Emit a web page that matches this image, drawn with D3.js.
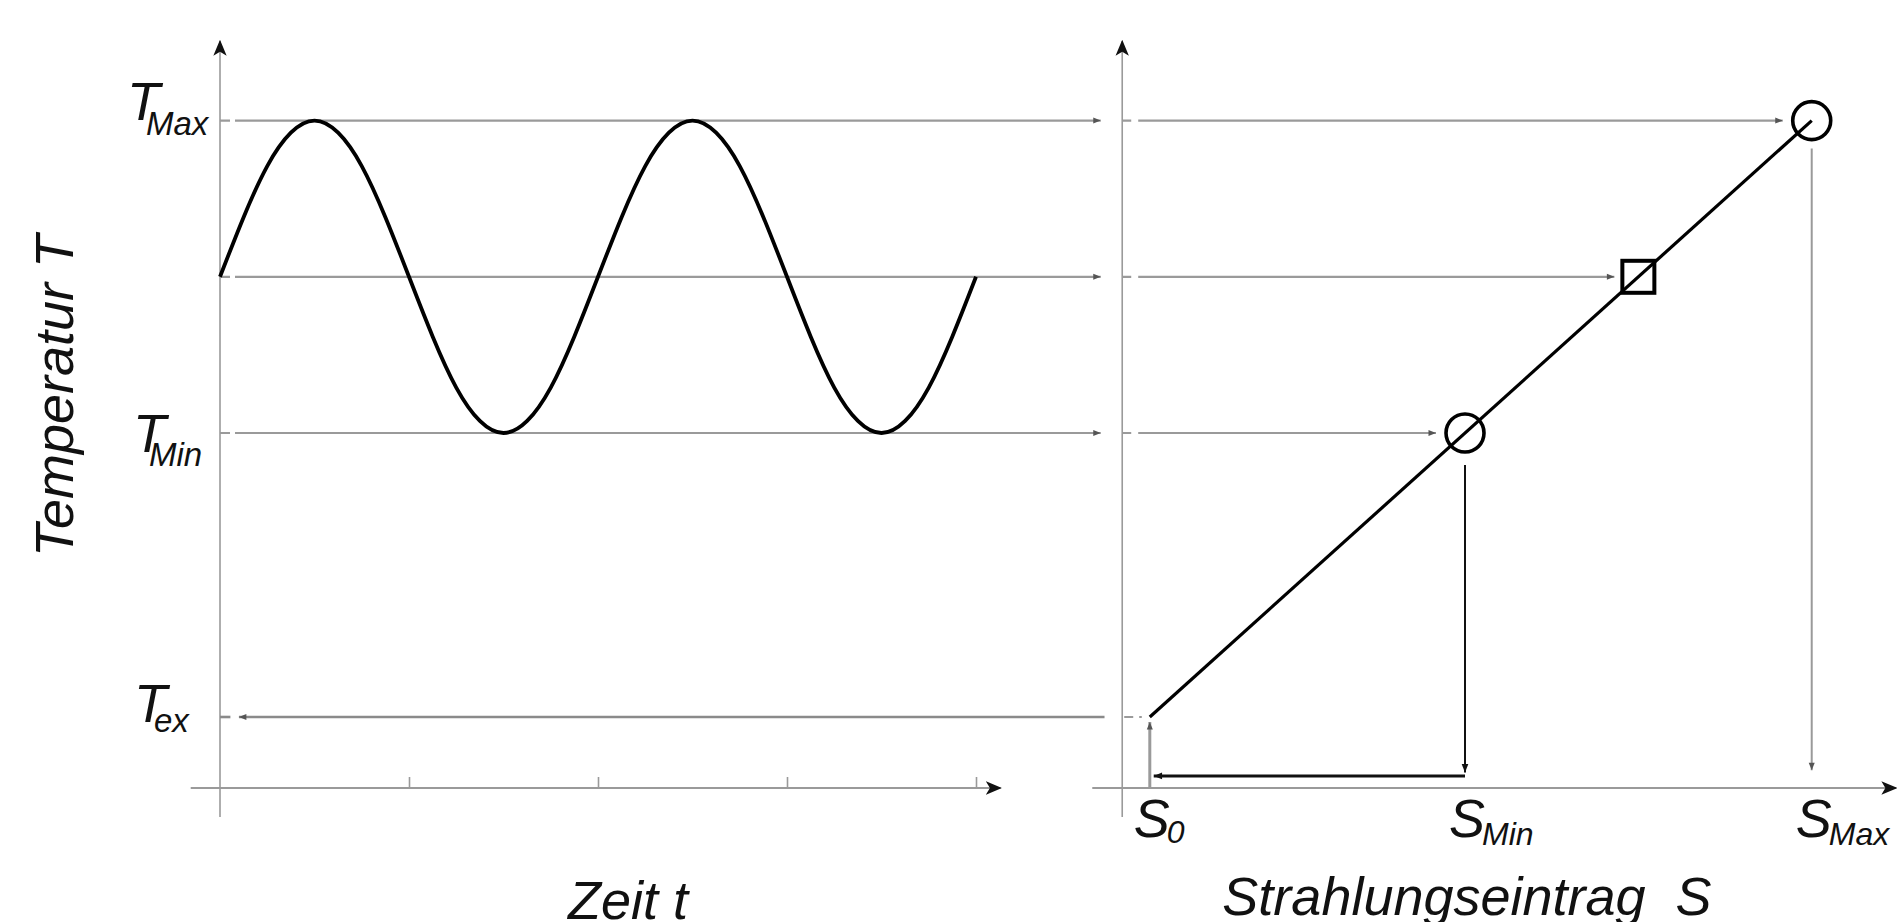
<!DOCTYPE html>
<html>
<head>
<meta charset="utf-8">
<script src="https://cdn.jsdelivr.net/npm/d3@7"></script>
<style>
    body { margin: 0; background: #fff; }
    text { font-family: "Liberation Sans", Arial, sans-serif; font-style: italic; fill: #111; }
</style>
</head>
<body>
<div id="chart"></div>
<script>
// values (time in tick units, temperature in arbitrary units)
const sineTime = [0, 0.125, 0.25, 0.375, 0.5, 0.625, 0.75, 0.875, 1, 1.125, 1.25, 1.375, 1.5, 1.625, 1.75, 1.875,
    2, 2.125, 2.25, 2.375, 2.5, 2.625, 2.75, 2.875, 3, 3.125, 3.25, 3.375, 3.5, 3.625, 3.75, 3.875, 4];
const sineTemp = [7.2, 8.04, 8.76, 9.23, 9.4, 9.23, 8.76, 8.04, 7.2, 6.36, 5.64, 5.17, 5.0, 5.17, 5.64, 6.36,
    7.2, 8.04, 8.76, 9.23, 9.4, 9.23, 8.76, 8.04, 7.2, 6.36, 5.64, 5.17, 5.0, 5.17, 5.64, 6.36, 7.2];
const timeTicks = [1, 2, 3, 4];

// temperature levels: T_ex, T_Min, mean, T_Max and the radiation input S belonging to each
const levelKeys = ["ex", "Min", "Mid", "Max"];
const levelTemp = [1, 5, 7.2, 9.4];
const levelS = [1, 5, 7.2, 9.4];

const tLabels = [["Max", 9.4], ["Min", 5], ["ex", 1]];
const sLabels = [["0", 1], ["Min", 5], ["Max", 9.4]];

const W = 1898, H = 922;
const grey = "#9a9a9a";

const svg = d3.select("#chart").append("svg")
    .attr("width", W).attr("height", H);

const xT = d3.scaleLinear().domain([0, 4]).range([220, 976]);
const yT = d3.scaleLinear().domain([0, 10.5]).range([788, 42.5]);
const xS = d3.scaleLinear().domain([0, 10]).range([1071, 1859]);

// arrow heads
const defs = svg.append("defs");
function marker(id, path, size, color) {
    defs.append("marker").attr("id", id)
        .attr("viewBox", "0 -6 12 12").attr("refX", 11).attr("refY", 0)
        .attr("markerWidth", size).attr("markerHeight", size)
        .attr("markerUnits", "userSpaceOnUse").attr("orient", "auto")
        .append("path").attr("d", path).attr("fill", color);
}
marker("axArrow", "M0,-5L12,0L0,5L3,0Z", 16, "#111");
marker("gArrow", "M1,-4L11,0L1,4Z", 9, "#555");
marker("bArrow", "M1,-4L11,0L1,4Z", 10, "#111");

function line(x1, y1, x2, y2, color, w, arrow) {
    const l = svg.append("line")
        .attr("x1", x1).attr("y1", y1).attr("x2", x2).attr("y2", y2)
        .attr("stroke", color).attr("stroke-width", w);
    if (arrow) l.attr("marker-end", "url(#" + arrow + ")");
    return l;
}

// ---------- left panel: T over time ----------
line(xT(0), yT(-0.41), xT(0), yT(10.52), grey, 1.6, "axArrow");
line(xT(-0.155), yT(0), xT(4.13), yT(0), grey, 2.2, "axArrow");

const tickG = svg.append("g").attr("transform", "translate(0," + yT(0) + ")")
    .call(d3.axisBottom(xT).tickValues(timeTicks).tickSize(-11).tickFormat(""));
tickG.select(".domain").remove();
tickG.selectAll("line").attr("stroke", grey).attr("stroke-width", 1.6);

// helper lines to the right panel
levelTemp.slice(1).forEach(v => {
    line(xT(0), yT(v), xT(4.66), yT(v), grey, 2.2, "gArrow")
        .attr("stroke-dasharray", "10,5,3000");
});
line(xT(4.68), yT(levelTemp[0]), xT(0.1), yT(levelTemp[0]), "#8a8a8a", 2.6, "gArrow");
line(xT(0), yT(levelTemp[0]), xT(0.055), yT(levelTemp[0]), "#8a8a8a", 2.6);

svg.append("path")
    .datum(sineTime.map((t, i) => [t, sineTemp[i]]))
    .attr("d", d3.line().x(d => xT(d[0])).y(d => yT(d[1])).curve(d3.curveNatural))
    .attr("fill", "none").attr("stroke", "#000").attr("stroke-width", 3.8);

// ---------- right panel: T over S ----------
const axR = xS(0.65);
line(axR, yT(-0.41), axR, yT(10.52), grey, 1.6, "axArrow");
line(xS(0.27), yT(0), xS(10.47), yT(0), grey, 2.2, "axArrow");

const markR = [0, 21, 16, 21]; // half size of the mark at each level
levelTemp.slice(1).forEach((v, i) => {
    line(axR, yT(v), xS(levelS[i + 1]) - markR[i + 1] - 8, yT(v), grey, 2.2, "gArrow")
        .attr("stroke-dasharray", "9,7,3000");
});
line(axR + 2, yT(levelTemp[0]), xS(levelS[0]) - 8, yT(levelTemp[0]), grey, 2.2)
    .attr("stroke-dasharray", "9,6,10");

// projections down to the S axis
line(xS(levelS[3]), yT(levelTemp[3]) + 28, xS(levelS[3]), yT(0.25), grey, 2, "gArrow");
line(xS(levelS[1]), yT(levelTemp[1]) + 32, xS(levelS[1]), yT(0.22), "#111", 2, "bArrow");
line(xS(levelS[1]), yT(0.17), xS(1.05), yT(0.17), "#111", 3, "bArrow");
line(xS(levelS[0]), yT(0), xS(levelS[0]), yT(0.93), grey, 3, "gArrow");

// linear relation
line(xS(levelS[0]), yT(levelTemp[0]), xS(levelS[3]), yT(levelTemp[3]), "#000", 3.2);

[1, 3].forEach(i => {
    svg.append("circle")
        .attr("cx", xS(levelS[i])).attr("cy", yT(levelTemp[i])).attr("r", 19)
        .attr("fill", "none").attr("stroke", "#000").attr("stroke-width", 3.6);
});
svg.append("rect")
    .attr("x", xS(levelS[2]) - 16).attr("y", yT(levelTemp[2]) - 16)
    .attr("width", 32).attr("height", 32)
    .attr("fill", "none").attr("stroke", "#000").attr("stroke-width", 4);

// ---------- labels ----------
// [x of T, baseline of T, x of subscript, baseline of subscript] relative to the level
const tPos = { Max: [127, -1, 146, 14], Min: [133, 19, 149, 33], ex: [134, 5, 154, 15] };
tLabels.forEach(([sub, v]) => {
    const p = tPos[sub];
    const t = svg.append("text").attr("x", p[0]).attr("y", yT(v) + p[1]).attr("font-size", 54);
    t.append("tspan").text("T");
    t.append("tspan").attr("x", p[2]).attr("y", yT(v) + p[3]).attr("font-size", 33).text(sub);
});
sLabels.forEach(([sub, v]) => {
    const t = svg.append("text").attr("x", xS(v) - 16).attr("y", 837).attr("font-size", 54);
    t.append("tspan").text("S");
    t.append("tspan").attr("x", xS(v) + 17).attr("y", sub === "0" ? 843 : 845)
        .attr("font-size", 32).text(sub);
});

svg.append("text").attr("transform", "translate(73,396) rotate(-90)")
    .attr("text-anchor", "middle").attr("font-size", 54).text("Temperatur T");
svg.append("text").attr("x", 628).attr("y", 919)
    .attr("text-anchor", "middle").attr("font-size", 54).text("Zeit t");
svg.append("text").attr("x", 1467).attr("y", 915)
    .attr("text-anchor", "middle").attr("font-size", 54)
    .style("white-space", "pre").text("Strahlungseintrag  S");
</script>
</body>
</html>
